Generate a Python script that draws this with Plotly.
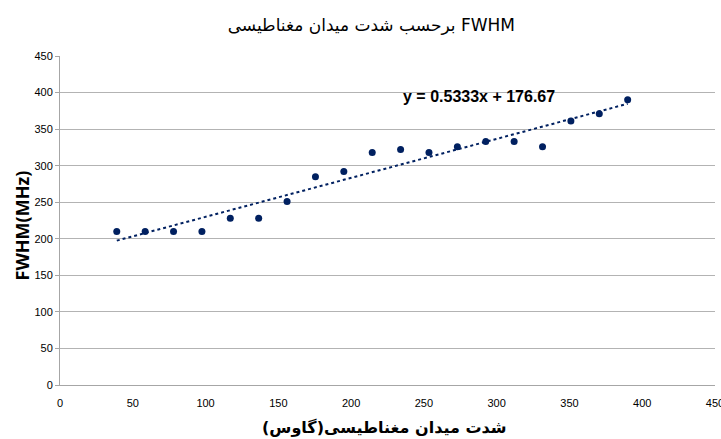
import plotly.graph_objects as go

# Data
field_gauss = [39, 58.5, 78, 97.5, 117, 136.5, 156, 175.5, 195, 214.5,
               234, 253.5, 273, 292.5, 312, 331.5, 351, 370.5, 390]
fwhm_mhz = [210, 210, 210, 210, 228, 228, 251, 285, 292, 318,
            322, 318, 326, 333, 333, 326, 361, 371, 390]

trend_slope = 0.5333
trend_intercept = 176.67
trend_label = "y = 0.5333x + 176.67"

x_ticks = [0, 50, 100, 150, 200, 250, 300, 350, 400, 450]
y_ticks = [0, 50, 100, 150, 200, 250, 300, 350, 400, 450]

title_text = "\u202BFWHM برحسب شدت میدان مغناطیسی\u202C"
x_title = "\u202Bشدت میدان مغناطیسی(گاوس)\u202C"
y_title = "FWHM(MHz)"

navy = "#002060"
narrow = "Liberation Sans Narrow, Arial Narrow, sans-serif"

trend_x = [min(field_gauss), max(field_gauss)]
trend_y = [trend_slope * v + trend_intercept for v in trend_x]

fig = go.Figure()
fig.add_trace(go.Scatter(
    x=trend_x, y=trend_y, mode="lines",
    line=dict(color=navy, width=2, dash="dot"),
    showlegend=False, hoverinfo="skip"))
fig.add_trace(go.Scatter(
    x=field_gauss, y=fwhm_mhz, mode="markers",
    marker=dict(color=navy, size=7, symbol="circle"),
    showlegend=False))

fig.add_annotation(
    x=288, y=394, xref="x", yref="y", text="<b>" + trend_label + "</b>",
    showarrow=False, font=dict(family=narrow, size=16, color="#000000"))

fig.add_annotation(
    x=0.495, y=-0.13, xref="paper", yref="paper", yanchor="middle", xanchor="center",
    text="<b>" + x_title + "</b>", showarrow=False,
    font=dict(family="DejaVu Sans, sans-serif", size=16, color="#000000"))
fig.add_annotation(
    x=-0.058, y=0.485, xref="paper", yref="paper", xanchor="center", yanchor="middle",
    text="<b>" + y_title + "</b>", showarrow=False, textangle=-90,
    font=dict(family="Open Sans, sans-serif", size=18, color="#000000"))

fig.update_layout(
    width=721, height=439,
    margin=dict(l=60, r=6, t=56, b=54, autoexpand=False),
    paper_bgcolor="white", plot_bgcolor="white",
    title=dict(text=title_text, x=0.515, xanchor="center", y=0.943, yanchor="middle",
               font=dict(family="DejaVu Sans, sans-serif", size=17, color="#000000")),
)
fig.update_xaxes(
    range=[0, 450], tickvals=x_ticks, ticktext=[str(t) for t in x_ticks],
    showgrid=False, zeroline=False, showline=True, linecolor="#a6a6a6", linewidth=1,
    ticks="", ticklabelstandoff=8, automargin=False, ticklabeloverflow="allow",
    tickfont=dict(family=narrow, size=11, color="#000000"),
)
fig.update_yaxes(
    range=[0, 450], tickvals=y_ticks, ticktext=[str(t) for t in y_ticks],
    showgrid=True, gridcolor="#b3b3b3", gridwidth=1,
    zeroline=False, showline=True, linecolor="#a6a6a6", linewidth=1,
    ticks="outside", ticklen=4, tickcolor="#a6a6a6", automargin=False,
    tickfont=dict(family=narrow, size=11, color="#000000"),
)

fig.write_html("out.html", config={"displayModeBar": False},
               post_script="document.body.style.margin='0';document.body.style.overflow='hidden';")
